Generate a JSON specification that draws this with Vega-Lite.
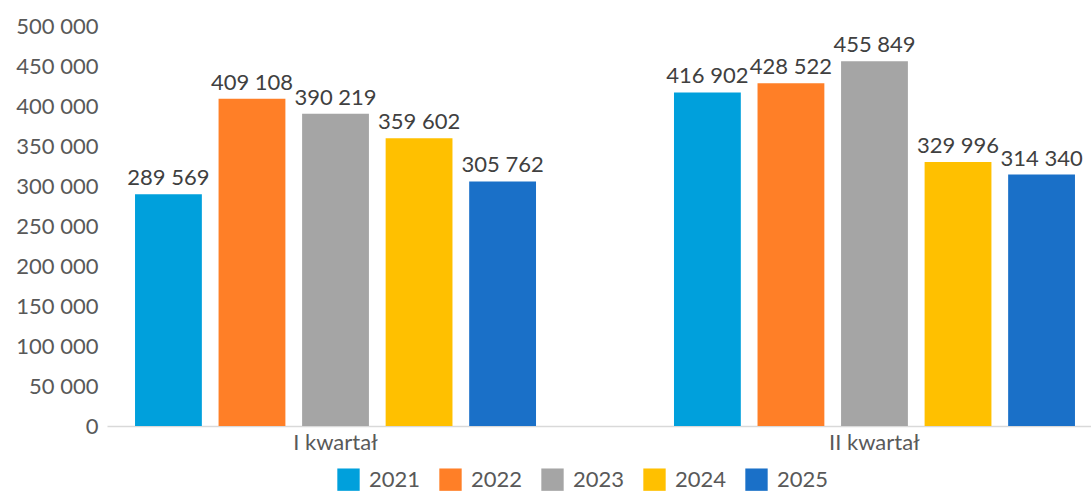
{
  "$schema": "https://vega.github.io/schema/vega-lite/v6.json",
  "width": 984,
  "height": 400,
  "autosize": {"type": "none"},
  "padding": {"left": 107, "top": 26, "right": 0, "bottom": 67},
  "background": "white",
  "config": {
    "locale": {"number": {"decimal": ",", "thousands": " ", "grouping": [3], "currency": ["", " zł"]}},
    "font": "Lato",
    "view": {"stroke": null}
  },
  "data": {
    "values": [
      {"kwartal": "I kwartał", "rok": "2021", "wartosc": 289569},
      {"kwartal": "I kwartał", "rok": "2022", "wartosc": 409108},
      {"kwartal": "I kwartał", "rok": "2023", "wartosc": 390219},
      {"kwartal": "I kwartał", "rok": "2024", "wartosc": 359602},
      {"kwartal": "I kwartał", "rok": "2025", "wartosc": 305762},
      {"kwartal": "II kwartał", "rok": "2021", "wartosc": 416902},
      {"kwartal": "II kwartał", "rok": "2022", "wartosc": 428522},
      {"kwartal": "II kwartał", "rok": "2023", "wartosc": 455849},
      {"kwartal": "II kwartał", "rok": "2024", "wartosc": 329996},
      {"kwartal": "II kwartał", "rok": "2025", "wartosc": 314340}
    ]
  },
  "encoding": {
    "x": {
      "field": "kwartal", "type": "nominal", "sort": null,
      "scale": {"range": [0, 996], "paddingInner": 0.256, "paddingOuter": 0.052},
      "axis": {
        "title": null, "labelAngle": 0, "ticks": false,
        "domainColor": "#D9D9D9", "domainWidth": 1.5,
        "labelFontSize": 22, "labelColor": "#595959", "labelPadding": 6
      }
    },
    "xOffset": {"field": "rok", "type": "nominal", "scale": {"paddingInner": 0.2, "paddingOuter": 0}},
    "y": {
      "field": "wartosc", "type": "quantitative",
      "scale": {"domain": [0, 500000], "nice": false},
      "axis": {
        "title": null, "values": [0, 50000, 100000, 150000, 200000, 250000, 300000, 350000, 400000, 450000, 500000],
        "format": ",d", "grid": false, "domain": false, "ticks": false,
        "labelFontSize": 22, "labelColor": "#595959", "labelPadding": 9
      }
    }
  },
  "layer": [
    {
      "mark": {"type": "bar"},
      "encoding": {
        "color": {
          "field": "rok", "type": "nominal",
          "scale": {"domain": ["2021", "2022", "2023", "2024", "2025"], "range": ["#00A0DC", "#FF7F27", "#A5A5A5", "#FFC000", "#1A70C8"]},
          "legend": {
            "title": null, "orient": "none", "direction": "horizontal",
            "legendX": 230, "legendY": 442,
            "symbolType": "square", "symbolSize": 500, "symbolStrokeWidth": 0,
            "labelFontSize": 22, "labelColor": "#595959", "labelOffset": 9,
            "columnPadding": 18
          }
        }
      }
    },
    {
      "mark": {"type": "text", "baseline": "bottom", "dy": -4, "fontSize": 22, "color": "#404040"},
      "encoding": {
        "text": {"field": "wartosc", "type": "quantitative", "format": ",d"}
      }
    }
  ]
}
